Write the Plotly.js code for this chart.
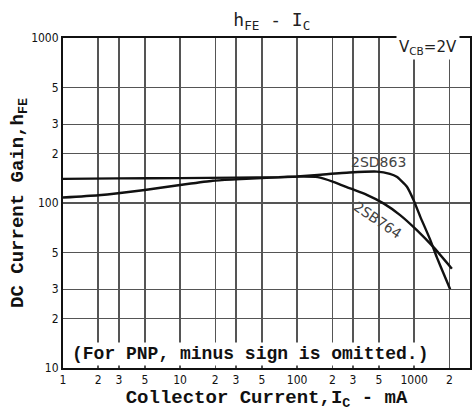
<!DOCTYPE html>
<html>
<head>
<meta charset="utf-8">
<script src="https://cdn.plot.ly/plotly-3.0.1.min.js"></script>
<style>
  html, body { margin: 0; padding: 0; background: #fff; }
  #chart { width: 473px; height: 412px; }
</style>
</head>
<body>
<div id="chart"></div>
<script>
// ---- data ----
const xTickVals = [1, 2, 3, 5, 10, 20, 30, 50, 100, 200, 300, 500, 1000, 2000, 3000];
const xTickText = ['1', '2', '3', '5', '10', '2', '3', '5', '100', '2', '3', '5', '1000', '2', '3'];
const yTickVals = [10, 20, 30, 50, 100, 200, 300, 500, 1000];
const yTickText = ['10', '2', '3', '5', '100', '2', '3', '5', '1000'];

const d863_ic  = [1, 3, 10, 30, 70, 100, 150, 280, 480, 620, 710, 865, 990, 1125, 1370, 1560, 1780, 2030];
const d863_hfe = [140, 141, 141.5, 142.5, 143.5, 145, 148, 153, 155, 150, 144, 126, 104, 83, 60, 47, 37.5, 30];

const b764_ic  = [1, 2, 5, 10, 19, 30, 55, 106, 150, 204, 284, 394, 547, 759, 1054, 1462, 2100];
const b764_hfe = [108, 111.5, 120, 128.5, 136.5, 139, 142, 144.5, 143.5, 134.5, 122.5, 112, 99.5, 84.5, 68.5, 54, 40];

const seriesNames = ['2SD863', '2SB764'];

const monoBold = {family: 'Liberation Mono, Courier New, monospace', weight: 'bold', color: '#111'};

const traces = [
  {x: d863_ic, y: d863_hfe, name: seriesNames[0], mode: 'lines', type: 'scatter',
   line: {color: '#111', width: 2.4, shape: 'spline', smoothing: 0.5}, hoverinfo: 'none'},
  {x: b764_ic, y: b764_hfe, name: seriesNames[1], mode: 'lines', type: 'scatter',
   line: {color: '#111', width: 2.4, shape: 'spline', smoothing: 0.5}, hoverinfo: 'none'}
];

const axisCommon = {
  type: 'log', showgrid: true, gridcolor: '#555', gridwidth: 1.5,
  showline: true, linecolor: '#111', linewidth: 2, mirror: true,
  ticks: '', zeroline: false, fixedrange: true,
  tickfont: {family: 'DejaVu Sans Condensed, DejaVu Sans, sans-serif', size: 12, color: '#111'}
};

const layout = {
  width: 473, height: 412,
  margin: {l: 63, r: 3, t: 38, b: 44, autoexpand: false},
  paper_bgcolor: '#fff', plot_bgcolor: '#fff',
  showlegend: false,
  title: {
    text: 'h<sub>FE</sub> - I<sub>C</sub>',
    font: {family: 'DejaVu Sans Mono, monospace', size: 18, color: '#222'},
    xref: 'paper', x: 0.513, xanchor: 'center',
    yref: 'container', y: 1 - 20 / 412, yanchor: 'middle'
  },
  xaxis: Object.assign({}, axisCommon, {
    range: [0, Math.log10(3000)],
    tickvals: xTickVals, ticktext: xTickText,
    title: {text: 'Collector Current,I<sub>C</sub> - mA', font: Object.assign({size: 19}, monoBold), standoff: 2}
  }),
  yaxis: Object.assign({}, axisCommon, {
    range: [1, 3],
    tickvals: yTickVals, ticktext: yTickText,
    title: {text: 'DC Current Gain,h<sub>FE</sub>', font: Object.assign({size: 19}, monoBold), standoff: 2}
  }),
  annotations: [
    {text: seriesNames[0], xref: 'x', yref: 'y', x: 2.692, y: 2.248, showarrow: false,
     font: {family: 'DejaVu Sans, sans-serif', size: 14, color: '#444'}},
    {text: seriesNames[1], xref: 'x', yref: 'y', x: 2.69, y: 1.9, showarrow: false, textangle: 34,
     font: {family: 'DejaVu Sans, sans-serif', size: 14, color: '#444'}},
    {text: 'V<sub>CB</sub>=2V', xref: 'paper', yref: 'paper', x: 0.897, y: 0.97, showarrow: false,
     xanchor: 'center', yanchor: 'middle', bgcolor: '#fff', borderpad: 2,
     font: {family: 'DejaVu Sans, sans-serif', size: 15, color: '#222'}},
    {text: '(For PNP, minus sign is omitted.)', xref: 'paper', yref: 'paper', x: 0.459, y: 0.042,
     showarrow: false, xanchor: 'center', yanchor: 'middle', bgcolor: '#fff', borderpad: 1,
     font: Object.assign({size: 18}, monoBold)}
  ]
};

Plotly.newPlot('chart', traces, layout, {staticPlot: true, displayModeBar: false});
</script>
</body>
</html>
